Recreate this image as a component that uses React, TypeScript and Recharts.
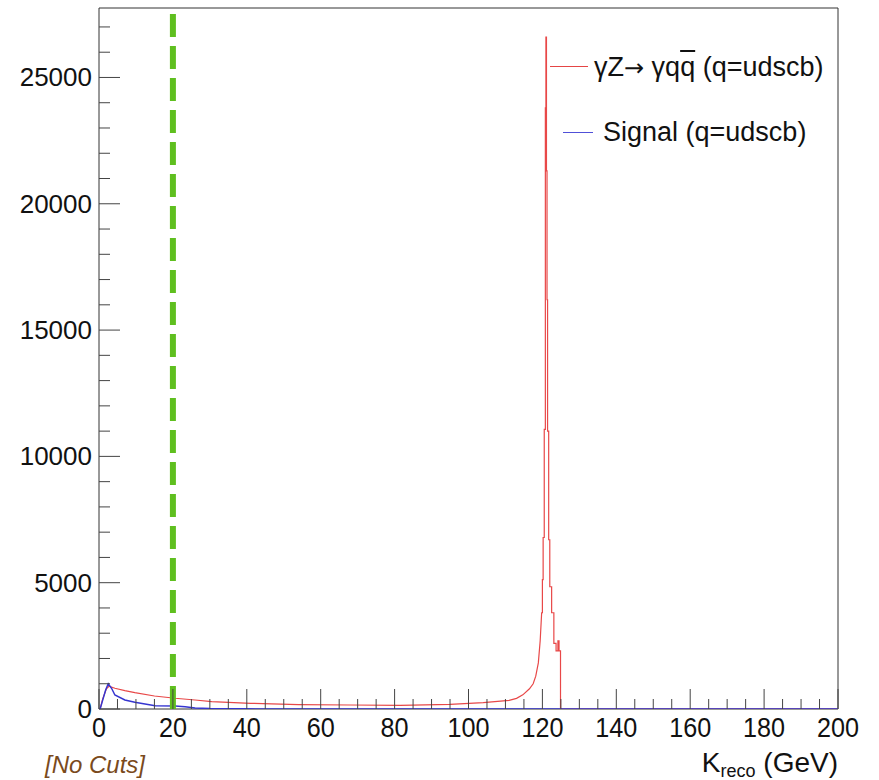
import { LineChart, Line, XAxis, YAxis, ReferenceLine, ReferenceArea, Legend } from 'recharts'

// K_reco spectrum, no cuts
const redTailX = [0, 0.3, 1, 2, 2.7, 4.3, 7, 9.7, 15, 20.6, 26, 30.5, 41, 54, 68, 81.5, 95, 104, 111, 113, 114.7, 116.5, 117.5, 118.2, 118.9, 119.4]
const redTailY = [0, 0, 400, 800, 900, 820, 730, 650, 515, 425, 357, 290, 225, 172, 159, 145, 185, 250, 340, 420, 560, 800, 1000, 1300, 1825, 2700]

// narrow bins around the Z peak (edges and counts)
const peakEdges = [119.8, 120.0, 120.2, 120.5, 120.8, 120.95, 121.1, 121.25, 121.4, 121.7, 122.0, 122.5, 123.1, 123.7, 124.2, 124.5, 124.9]
const peakCounts = [3810, 5120, 6790, 11070, 23800, 26600, 21300, 16200, 11000, 6700, 4840, 3810, 2600, 2300, 2700, 2300]

const blueX = [0, 0.3, 1, 1.8, 2.5, 3.4, 4.3, 7, 9.7, 15.2, 20.6, 23.3, 26, 30, 40, 200]
const blueY = [0, 0, 350, 750, 1000, 820, 555, 357, 265, 130, 120, 90, 40, 15, 5, 0]

const xMajorTicks = [0, 20, 40, 60, 80, 100, 120, 140, 160, 180, 200]
const yMajorTicks = [0, 5000, 10000, 15000, 20000, 25000]
const xMinorStep = 5
const yMinorStep = 1000
const yMax = 27750
const cutValue = 20

const redData = [
  ...redTailX.map((x, i) => ({ x, y: redTailY[i] })),
  ...peakCounts.flatMap((c, i) => [
    { x: peakEdges[i], y: c },
    { x: peakEdges[i + 1], y: c },
  ]),
  { x: peakEdges[peakEdges.length - 1], y: 0 },
  { x: 200, y: 0 },
]
const blueData = blueX.map((x, i) => ({ x, y: blueY[i] }))

const xTicks: number[] = []
for (let v = 0; v <= 200; v += xMinorStep) xTicks.push(v)
const yTicks: number[] = []
for (let v = 0; v <= yMax; v += yMinorStep) yTicks.push(v)

const font = '"Liberation Sans", Arial, Helvetica, sans-serif'

const XTick = (props: any) => {
  const { x, y, payload } = props
  const major = xMajorTicks.includes(payload.value)
  return (
    <g>
      <line x1={x} x2={x} y1={y} y2={y - (major ? 20 : 10)} stroke="#444" strokeWidth={1} />
      {major && (
        <text
          transform={`translate(${x},${y + 28}) scale(0.9,1)`}
          textAnchor="middle"
          fontSize={28}
          fontFamily={font}
          fill="#111"
        >
          {payload.value}
        </text>
      )}
    </g>
  )
}

const YTick = (props: any) => {
  const { x, y, payload } = props
  const major = yMajorTicks.includes(payload.value)
  return (
    <g>
      <line x1={x} x2={x + (major ? 21 : 11)} y1={y} y2={y} stroke="#444" strokeWidth={1} />
      {major && (
        <text x={x - 7} y={y + 9} textAnchor="end" fontSize={26} fontFamily={font} fill="#111">
          {payload.value}
        </text>
      )}
    </g>
  )
}

const LegendBox = () => (
  <div style={{ position: 'relative', fontFamily: font, fontSize: 27, color: '#111' }}>
    <div style={{ position: 'absolute', left: 550, top: 66, width: 38, borderTop: '1.5px solid #e54545' }} />
    <div style={{ position: 'absolute', left: 594, top: 51, lineHeight: '32px', whiteSpace: 'nowrap' }}>
      γZ<span style={{ fontFamily: '"DejaVu Sans", sans-serif', fontSize: 24 }}>→</span> γq
      <span style={{ textDecoration: 'overline' }}>q</span> (q=udscb)
    </div>
    <div style={{ position: 'absolute', left: 563, top: 132, width: 30, borderTop: '1.5px solid #5050d8' }} />
    <div style={{ position: 'absolute', left: 603, top: 116, lineHeight: '32px', whiteSpace: 'nowrap' }}>
      Signal (q=udscb)
    </div>
  </div>
)

export default function App() {
  return (
    <div style={{ position: 'absolute', left: 0, top: 0, width: 879, height: 780, background: '#fff' }}>
      <LineChart width={879} height={780} margin={{ top: 8, right: 41, bottom: 31, left: 39 }}>
        <XAxis
          dataKey="x"
          type="number"
          domain={[0, 200]}
          ticks={xTicks}
          interval={0}
          height={40}
          tickSize={0}
          tickMargin={0}
          axisLine={false}
          tickLine={false}
          tick={<XTick />}
          allowDataOverflow
        />
        <YAxis
          type="number"
          domain={[0, yMax]}
          ticks={yTicks}
          interval={0}
          width={60}
          tickSize={0}
          tickMargin={0}
          axisLine={false}
          tickLine={false}
          tick={<YTick />}
          allowDataOverflow
        />
        <ReferenceArea x1={0} x2={200} y1={0} y2={yMax} fill="none" stroke="#333" strokeWidth={1} />
        <Line
          data={redData}
          dataKey="y"
          type="linear"
          stroke="#e84848"
          strokeWidth={1.2}
          dot={false}
          isAnimationActive={false}
        />
        <Line
          data={blueData}
          dataKey="y"
          type="linear"
          stroke="#3535d0"
          strokeWidth={1.5}
          dot={false}
          isAnimationActive={false}
        />
        <ReferenceLine x={cutValue} stroke="#5fbf1f" strokeWidth={6} strokeDasharray="23 9" />
        <Legend
          layout="horizontal"
          verticalAlign="middle"
          align="center"
          content={() => <LegendBox />}
          wrapperStyle={{ position: 'absolute', left: 0, top: 0, width: 879, height: 0 }}
        />
      </LineChart>
      <svg width={879} height={780} style={{ position: 'absolute', left: 0, top: 0, pointerEvents: 'none' }}>
        <text transform="translate(838,772)" textAnchor="end" fontSize={28} fontFamily={font} fill="#111">
          K<tspan fontSize={18} dy={5}>reco</tspan>
          <tspan dy={-5}> (GeV)</tspan>
        </text>
        <text x={45} y={773} fontSize={24} fontStyle="italic" fontFamily={font} fill="#7a4a1c">
          [No Cuts]
        </text>
      </svg>
    </div>
  )
}
